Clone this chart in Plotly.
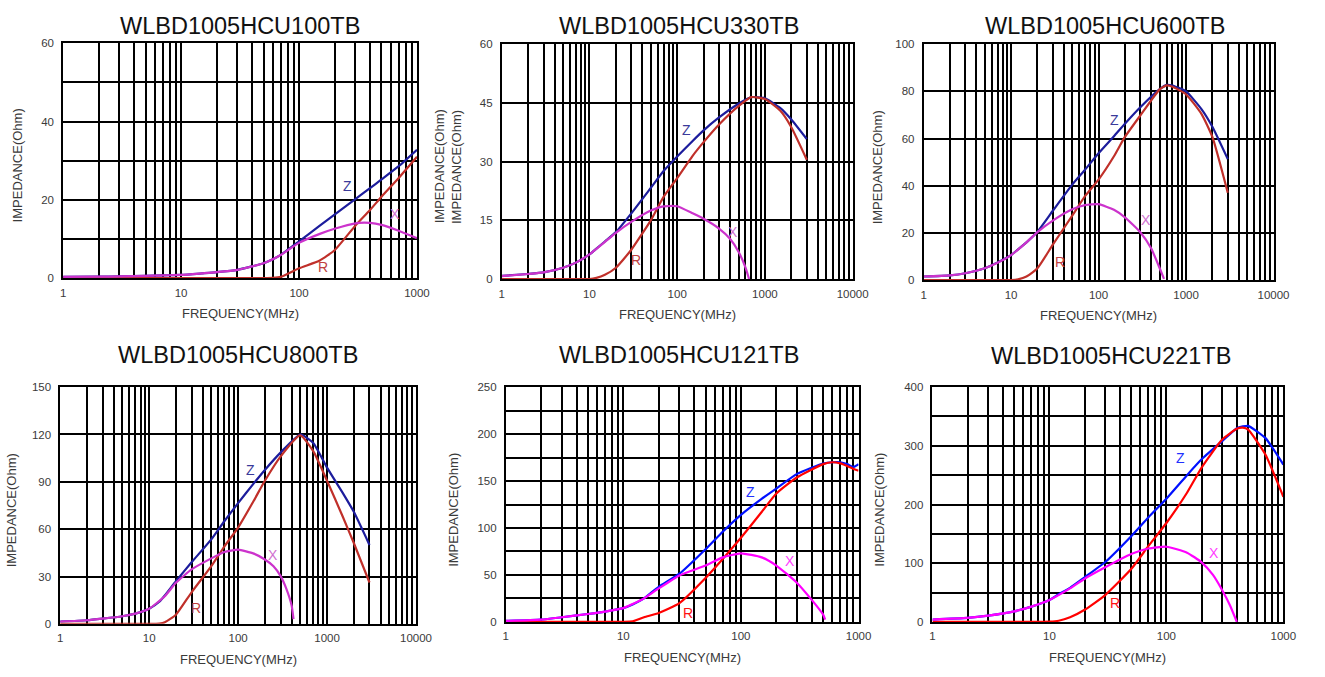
import math
import plotly.graph_objects as go

W, H = 1325, 677

titles = ["WLBD1005HCU100TB", "WLBD1005HCU330TB", "WLBD1005HCU600TB",
          "WLBD1005HCU800TB", "WLBD1005HCU121TB", "WLBD1005HCU221TB"]

# ---------- data ----------
# Panel 1: 100TB
f1 = [1, 2, 3, 5, 7, 10, 15, 20, 30, 50, 60, 70, 100, 150, 200, 300, 400, 500, 700, 1000]
z1 = [0.3, 0.35, 0.45, 0.55, 0.7, 0.8, 1.2, 1.5, 2.1, 3.8, 4.8, 5.95, 9.4, 13.4, 16.2, 20.2, 23.0, 25.2, 28.6, 32.8]
r1 = [0, 0, 0, 0, 0, 0, 0, 0, 0, 0, 0.05, 0.3, 2.5, 4.5, 7.1, 13.4, 17.4, 20.8, 25.6, 31.0]
fx1 = [1, 2, 3, 5, 7, 10, 15, 20, 30, 50, 70, 100, 150, 200, 300, 400, 500, 700, 1000]
x1 = [0.3, 0.35, 0.45, 0.55, 0.7, 0.8, 1.2, 1.5, 2.1, 3.8, 5.9, 9.0, 11.3, 12.6, 14.0, 14.1, 13.6, 12.1, 10.2]

# Panel 2: 330TB
f2 = [1, 2, 3, 5, 7, 10, 12, 15, 20, 30, 50, 70, 100, 150, 200, 300, 500, 700, 1000, 1500, 2000, 3000]
z2 = [0.8, 1.3, 1.7, 2.9, 4.2, 6.3, 7.8, 9.6, 12.0, 16.8, 23.3, 27.6, 31.3, 35.3, 38.0, 41.3, 44.8, 46.5, 46.2, 43.7, 40.8, 35.8]
r2 = [0, 0, 0, 0, 0, 0, 0.3, 1.1, 2.9, 7.5, 15.0, 21.0, 25.8, 31.5, 35.0, 39.5, 44.2, 46.5, 46.0, 43.0, 38.8, 30.5]
fx2 = [1, 2, 3, 5, 7, 10, 15, 20, 30, 50, 70, 100, 150, 200, 300, 400, 500, 600, 660]
x2 = [0.75, 1.3, 1.7, 2.9, 4.2, 6.3, 9.5, 11.8, 14.6, 17.5, 18.6, 18.6, 16.8, 15.4, 12.9, 10.3, 7.0, 3.0, 0.0]

# Panel 3: 600TB
f3 = [1, 2, 3, 5, 7, 10, 12, 15, 20, 30, 50, 70, 100, 150, 200, 300, 500, 600, 700, 1000, 1500, 2000, 3000]
z3 = [1.5, 2.0, 2.9, 5.0, 7.5, 10.6, 13.0, 16.0, 20.5, 29.4, 40.5, 46.8, 53.8, 61.0, 66.3, 73.3, 81.0, 82.8, 82.5, 80.0, 72.5, 65.0, 51.3]
r3 = [0, 0, 0, 0, 0, 0, 0.3, 1.5, 5.0, 15.0, 27.3, 35.6, 42.6, 52.5, 60.7, 69.8, 80.9, 82.6, 82.0, 78.8, 70.5, 60.7, 37.0]
fx3 = [1, 2, 3, 5, 7, 10, 15, 20, 30, 50, 70, 100, 150, 200, 300, 400, 500, 560]
x3 = [1.5, 2.0, 2.9, 5.0, 7.3, 10.6, 16.0, 20.3, 25.2, 30.0, 31.8, 32.2, 29.8, 26.6, 20.3, 13.4, 5.0, 0.5]

# Panel 4: 800TB
f4 = [1, 2, 3, 5, 7, 10, 13, 15, 20, 30, 50, 70, 100, 150, 200, 300, 500, 700, 1000, 1500, 2000, 3000]
z4 = [1.5, 2.3, 3.3, 4.8, 6.5, 9.6, 14.0, 18.0, 27.0, 39.0, 53.5, 65.0, 76.5, 89.0, 97.5, 108.5, 120.0, 114.6, 99.0, 83.0, 71.0, 50.0]
r4 = [0, 0, 0, 0, 0, 0, 0.2, 1.0, 5.8, 20.0, 36.6, 49.0, 61.0, 78.0, 90.7, 106.0, 119.4, 109.4, 90.7, 68.0, 51.2, 26.2]
fx4 = [1, 2, 3, 5, 7, 10, 15, 20, 30, 50, 70, 100, 150, 200, 250, 300, 350, 400, 420]
x4 = [1.5, 2.3, 3.3, 4.8, 6.5, 9.6, 17.5, 26.0, 34.5, 41.5, 45.5, 47.0, 44.5, 40.8, 36.5, 30.4, 22.0, 11.6, 3.0]

# Panel 5: 121TB
f5 = [1, 2, 3, 5, 7, 10, 12, 15, 20, 30, 50, 70, 100, 150, 200, 300, 500, 600, 700, 800, 900, 1000]
z5 = [1.0, 2.4, 4.9, 8.4, 11.0, 14.6, 18.5, 25.0, 37.3, 51.3, 77.4, 96.0, 114.0, 131.0, 142.0, 157.6, 168.5, 170.0, 170.0, 168.0, 165.0, 168.0]
r5 = [0, 0, 0, 0, 0, 0, 0.5, 4.9, 9.4, 19.9, 46.7, 67.0, 89.6, 117.0, 136.7, 154.0, 168.0, 170.0, 168.8, 166.0, 163.0, 161.0]
fx5 = [1, 2, 3, 5, 7, 10, 12, 15, 20, 30, 50, 70, 100, 150, 200, 300, 400, 500, 520]
x5 = [1.0, 2.4, 4.9, 8.4, 11.0, 14.6, 19.0, 25.0, 35.6, 49.5, 60.0, 68.7, 73.0, 68.7, 60.0, 41.5, 23.4, 7.7, 2.5]

# Panel 6: 221TB
f6 = [1, 2, 3, 5, 7, 10, 12, 15, 20, 30, 50, 70, 100, 150, 200, 300, 400, 450, 500, 700, 1000]
z6 = [4.0, 6.7, 10.6, 17.9, 26.0, 37.4, 47.0, 58.0, 76.0, 102.0, 146.0, 178.0, 210.0, 250.0, 277.0, 308.0, 330.0, 333.0, 334.0, 313.5, 268.0]
r6 = [0, 0, 0, 0, 0, 0.5, 2.0, 7.8, 20.6, 45.7, 90.0, 129.0, 168.5, 220.0, 263.0, 310.7, 329.0, 331.0, 327.5, 285.6, 213.0]
fx6 = [1, 2, 3, 5, 7, 10, 15, 20, 30, 50, 70, 100, 150, 200, 250, 300, 350, 400]
x6 = [4.0, 6.7, 10.6, 17.9, 26.0, 37.4, 57.0, 73.6, 93.0, 115.5, 125.0, 128.0, 118.0, 101.5, 80.0, 54.0, 28.0, 0.0]

x_max = [1000, 10000, 10000, 10000, 1000, 1000]
y_max = [60, 60, 100, 150, 250, 400]
y_grid = [10, 15, 20, 30, 25, 50]
y_label = [20, 15, 20, 30, 50, 100]

# curve label positions (data coords): (f, value) for Z, R, X
lab_z = [(260, 23.6), (127, 38.1), (153, 67.7), (139, 97.4), (121, 138), (132, 280)]
lab_r = [(161, 2.8), (34, 4.8), (36, 7.8), (33.5, 10), (35.6, 9.4), (36.5, 33)]
lab_x = [(645, 16.3), (433, 12.1), (349, 25.6), (245, 43.5), (262, 65), (256, 117)]

panels = [(f1, z1, r1, fx1, x1), (f2, z2, r2, fx2, x2), (f3, z3, r3, fx3, x3),
          (f4, z4, r4, fx4, x4), (f5, z5, r5, fx5, x5), (f6, z6, r6, fx6, x6)]

# pixel boxes of plot areas (left, right, top, bottom)
boxes = [(61, 420, 38, 277), (506, 862, 39, 278), (934, 1289, 39, 279),
         (58, 419, 388, 629), (510, 868, 388, 627), (943, 1299, 388, 627)]
title_pos = [(240, 20), (686, 20), (1118, 20), (238, 355), (686, 355), (1124, 356)]
ylab_x = [[15], [443, 460], [887], [9], [457], [889]]

dark = dict(z="#1c1c9c", r="#c0302a", x="#cc33cc",
            lz="#3a3a9a", lr="#c04040", lx="#d070d0")
bright = dict(z="#0010ff", r="#ff0000", x="#ff00ff",
              lz="#2030ff", lr="#ff1010", lx="#ff40ff")
pal = [dark, dark, dark, dark, bright, bright]

fig = go.Figure()
annotations = []
TXT = "#3a3a3a"
FONT = "Liberation Sans, Arial, sans-serif"

for i, (f, z, r, fx, xv) in enumerate(panels):
    n = i + 1
    xa = "x" if n == 1 else f"x{n}"
    ya = "y" if n == 1 else f"y{n}"
    c = pal[i]
    for fx_, yy, col in ((f, z, c["z"]), (f, r, c["r"]), (fx, xv, c["x"])):
        fig.add_trace(go.Scatter(x=fx_, y=yy, mode="lines", xaxis=xa, yaxis=ya,
                                 line=dict(color=col, width=2.2, shape="spline", smoothing=0.5),
                                 showlegend=False, hoverinfo="skip"))
    l, rr, t, b = boxes[i]
    decades = {1000: 3, 10000: 4}[x_max[i]]
    tv, tt = [], []
    for d in range(decades):
        for m in range(1, 10):
            v = m * 10 ** d
            tv.append(v)
            tt.append(str(v) if m == 1 else "")
    tv.append(10 ** decades)
    tt.append(str(10 ** decades))
    yv, yt = [], []
    k = 0
    while k * y_grid[i] <= y_max[i]:
        v = k * y_grid[i]
        yv.append(v)
        yt.append(str(v) if v % y_label[i] == 0 else "")
        k += 1
    axx = dict(type="log", range=[0, decades], domain=[l / W, rr / W], anchor=ya,
               tickmode="array", tickvals=tv, ticktext=tt,
               showgrid=True, gridcolor="#000000", gridwidth=1.5,
               showline=True, linecolor="#000000", linewidth=1.6, mirror=True,
               ticks="outside", ticklen=3, tickcolor="rgba(0,0,0,0)",
               tickfont=dict(size=11.5, color=TXT, family=FONT), zeroline=False)
    axy = dict(range=[0, y_max[i]], domain=[1 - b / H, 1 - t / H], anchor=xa,
               tickmode="array", tickvals=yv, ticktext=yt,
               showgrid=True, gridcolor="#000000", gridwidth=1.5,
               showline=True, linecolor="#000000", linewidth=1.6, mirror=True,
               ticks="outside", ticklen=5, tickcolor="rgba(0,0,0,0)",
               tickfont=dict(size=11.5, color=TXT, family=FONT), zeroline=False)
    fig.layout["xaxis" if n == 1 else f"xaxis{n}"] = axx
    fig.layout["yaxis" if n == 1 else f"yaxis{n}"] = axy

    tx, ty = title_pos[i]
    annotations.append(dict(text=titles[i], x=tx / W, y=1 - ty / H, xref="paper", yref="paper",
                            showarrow=False, xanchor="center", yanchor="middle",
                            font=dict(size=23.5, color="#111111", family=FONT)))
    annotations.append(dict(text="FREQUENCY(MHz)", x=(l + rr) / 2 / W, y=1 - (b + 36) / H,
                            xref="paper", yref="paper", showarrow=False,
                            xanchor="center", yanchor="middle",
                            font=dict(size=13, color=TXT, family=FONT)))
    for yx in ylab_x[i]:
        annotations.append(dict(text="IMPEDANCE(Ohm)", x=yx / W, y=1 - ((t + b) / 2 + 5) / H,
                                xref="paper", yref="paper", showarrow=False, textangle=-90,
                                xanchor="center", yanchor="middle",
                                font=dict(size=13, color=TXT, family=FONT)))
    for (lf, lv), col, s in ((lab_z[i], c["lz"], "Z"), (lab_r[i], c["lr"], "R"), (lab_x[i], c["lx"], "X")):
        annotations.append(dict(text=s, x=math.log10(lf), y=lv, xref=xa, yref=ya,
                                showarrow=False, xanchor="center", yanchor="middle",
                                font=dict(size=14, color=col, family=FONT)))

fig.update_layout(width=W, height=H, margin=dict(l=0, r=0, t=0, b=0),
                  paper_bgcolor="white", plot_bgcolor="white",
                  annotations=annotations, showlegend=False)

fig.write_html("out.html", config={"displayModeBar": False},
               post_script="document.body.style.margin='0';document.body.style.overflow='hidden';")
